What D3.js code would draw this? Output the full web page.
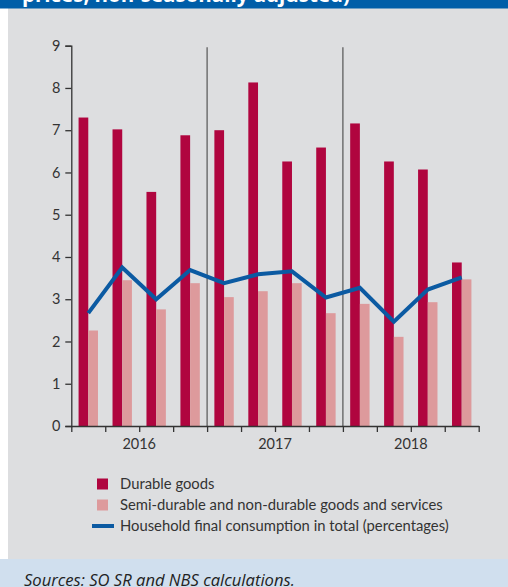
<!DOCTYPE html>
<html lang="en">
<head>
    <meta charset="UTF-8" />
    <title>Household consumption</title>
    <script src="https://d3js.org/d3.v7.min.js"></script>
    <style>
        html, body {
            margin: 0;
            padding: 0;
            background: #fff;
        }
        svg {
            display: block;
        }
        text {
            font-family: Lato, "Open Sans", sans-serif;
            fill: #333;
        }
    </style>
</head>
<body>
    <svg id="chart" width="508" height="587"></svg>

    <script>
        // data
        const quarters = ["2016Q1", "2016Q2", "2016Q3", "2016Q4",
                          "2017Q1", "2017Q2", "2017Q3", "2017Q4",
                          "2018Q1", "2018Q2", "2018Q3", "2018Q4"];
        const years = ["2016", "2017", "2018"];
        const durable = [7.30, 7.02, 5.54, 6.88, 7.00, 8.13, 6.26, 6.59, 7.16, 6.26, 6.07, 3.87];
        const semiDurable = [2.26, 3.45, 2.76, 3.38, 3.05, 3.19, 3.38, 2.67, 2.89, 2.11, 2.93, 3.47];
        const total = [2.67, 3.75, 3.00, 3.69, 3.38, 3.59, 3.66, 3.04, 3.27, 2.47, 3.23, 3.52];
        const yTicks = [0, 1, 2, 3, 4, 5, 6, 7, 8, 9];
        const legendLabels = ["Durable goods",
                              "Semi-durable and non-durable goods and services",
                              "Household final consumption in total (percentages)"];

        const colDurable = "#b0053f";
        const colSemi = "#dd9a9c";
        const colLine = "#0b5aa2";

        const svg = d3.select("#chart");
        const W = 508, H = 587;

        // panel backgrounds
        svg.append("rect").attr("x", 8).attr("y", 0).attr("width", W - 8).attr("height", H)
            .attr("fill", "#dddee0");
        svg.append("rect").attr("x", 0).attr("y", 0).attr("width", W).attr("height", 8.5)
            .attr("fill", "#005ea8");
        svg.append("text")
            .attr("x", 22).attr("y", 2)
            .style("font-family", "'Open Sans', sans-serif")
            .style("font-weight", "bold")
            .style("font-size", "20.5px")
            .style("fill", "#fff")
            .text("prices, non-seasonally adjusted)");
        svg.append("rect").attr("x", 0).attr("y", 559).attr("width", W).attr("height", H - 559)
            .attr("fill", "#d0dfee");
        svg.append("text")
            .attr("x", 24).attr("y", 586)
            .style("font-family", "'Open Sans', sans-serif")
            .style("font-style", "italic")
            .style("font-size", "16.6px")
            .style("fill", "#222")
            .text("Sources: SO SR and NBS calculations.");

        const margin = { top: 45.7, right: 29.3, bottom: 161, left: 71.3 };
        const x0 = margin.left, x1 = W - margin.right;
        const yBase = H - margin.bottom;

        const x = d3.scaleBand()
            .domain(quarters)
            .range([x0, x1])
            .paddingInner(0)
            .paddingOuter(0);

        const xSub = d3.scaleBand()
            .domain(["durable", "semi"])
            .range([0, x.bandwidth()])
            .paddingInner(0)
            .paddingOuter(0.75);

        const xTickScale = d3.scaleLinear()
            .domain([0, quarters.length])
            .range([x0, x1]);

        const y = d3.scaleLinear()
            .domain([0, 9])
            .range([yBase, margin.top]);

        const g = svg.append("g");

        // bars
        g.selectAll("rect.durable")
            .data(durable)
            .enter()
            .append("rect")
            .attr("class", "durable")
            .attr("x", (d, i) => x(quarters[i]) + xSub("durable"))
            .attr("y", d => y(d))
            .attr("width", xSub.bandwidth())
            .attr("height", d => y(0) - y(d))
            .attr("fill", colDurable);

        g.selectAll("rect.semi")
            .data(semiDurable)
            .enter()
            .append("rect")
            .attr("class", "semi")
            .attr("x", (d, i) => x(quarters[i]) + xSub("semi"))
            .attr("y", d => y(d))
            .attr("width", xSub.bandwidth())
            .attr("height", d => y(0) - y(d))
            .attr("fill", colSemi);

        // year separators
        g.selectAll("line.sep")
            .data([4, 8])
            .enter()
            .append("line")
            .attr("class", "sep")
            .attr("x1", d => xTickScale(d))
            .attr("x2", d => xTickScale(d))
            .attr("y1", y(9) + 1.5)
            .attr("y2", y(0))
            .attr("stroke", "#555")
            .attr("stroke-width", 1.2);

        // line
        const line = d3.line()
            .x((d, i) => x(quarters[i]) + x.bandwidth() / 2)
            .y(d => y(d));

        g.append("path")
            .datum(total)
            .attr("d", line)
            .attr("fill", "none")
            .attr("stroke", colLine)
            .attr("stroke-width", 4)
            .attr("stroke-linejoin", "miter");

        // axes
        const yAxis = g.append("g")
            .attr("transform", `translate(${x0},0)`)
            .call(d3.axisLeft(y).tickValues(yTicks).tickSize(6).tickPadding(5).tickFormat(d3.format("d")));

        const xAxis = g.append("g")
            .attr("transform", `translate(0,${yBase})`)
            .call(d3.axisBottom(xTickScale).tickValues(d3.range(quarters.length + 1))
                .tickSize(6).tickSizeOuter(0).tickFormat(""));

        [yAxis, xAxis].forEach(a => {
            a.selectAll("path, line").attr("stroke", "#333").attr("stroke-width", 1.3);
            a.selectAll("text").style("font-size", "14.5px").attr("fill", "#333");
        });

        g.selectAll("text.year")
            .data(years)
            .enter()
            .append("text")
            .attr("class", "year")
            .attr("x", (d, i) => xTickScale(i * 4 + 2))
            .attr("y", yBase + 23)
            .attr("text-anchor", "middle")
            .style("font-size", "14.5px")
            .text(d => d);

        // legend
        const legend = svg.append("g").attr("transform", "translate(0,484)");
        const legendRows = legend.selectAll("g")
            .data(legendLabels)
            .enter()
            .append("g")
            .attr("transform", (d, i) => `translate(0,${i * 21})`);

        legendRows.filter((d, i) => i < 2)
            .append("rect")
            .attr("x", 97)
            .attr("y", -5.5)
            .attr("width", 11)
            .attr("height", 11)
            .attr("fill", (d, i) => i === 0 ? colDurable : colSemi);

        legendRows.filter((d, i) => i === 2)
            .append("line")
            .attr("x1", 92).attr("x2", 114)
            .attr("y1", 0).attr("y2", 0)
            .attr("stroke", colLine)
            .attr("stroke-width", 4);

        legendRows.append("text")
            .attr("x", 120)
            .attr("y", 5)
            .style("font-size", "14.8px")
            .text(d => d);
    </script>
</body>
</html>
